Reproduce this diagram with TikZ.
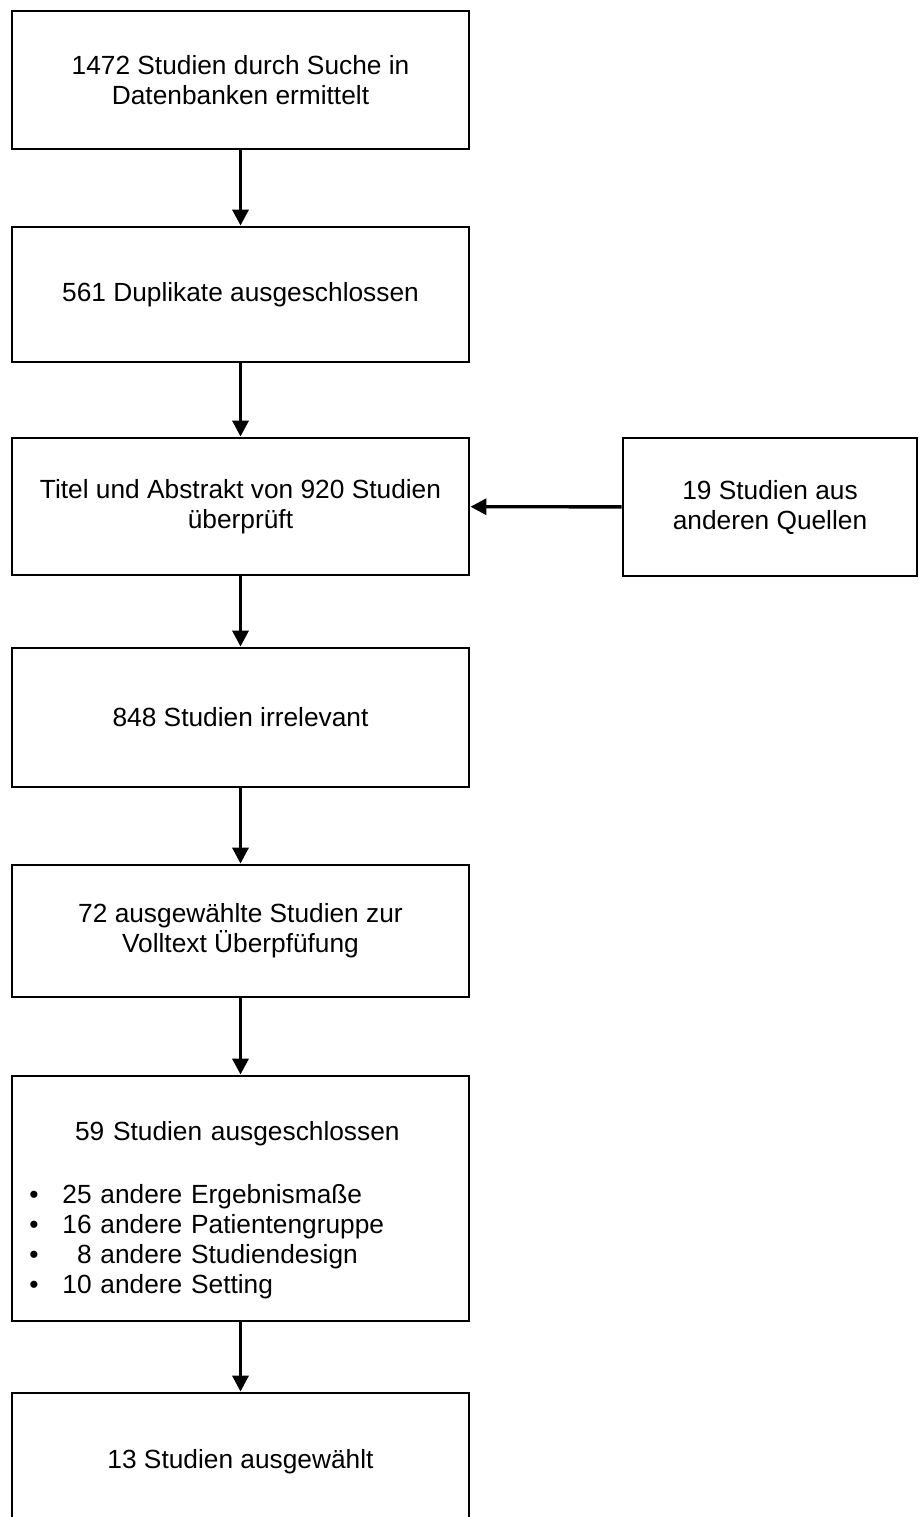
\documentclass[tikz,border=0pt]{standalone}
\usepackage{fontspec}
\setmainfont{Liberation Sans}
\usetikzlibrary{arrows.meta}
\begin{document}
\begin{tikzpicture}[x=0.025cm,y=-0.025cm]
        \tikzset{
        box/.style={rectangle, draw=black, line width=2pt, minimum width=11.425cm, align=center,
        font=\fontsize{18.7}{21.3}\selectfont},
        txt/.style={inner sep=0pt, align=left, text width=10.4cm, font=\fontsize{18.7}{21.3}\selectfont},
        c1/.style={-{Triangle[length=0.4cm,width=0.4cm]}, line width=2.4pt}
        }
        \useasboundingbox (0,0) rectangle (919,1517);
        \clip (0,0) rectangle (919,1517);
        \node[box, minimum height=3.45cm] (n1) at (240.5,80) {1472 Studien durch Suche in\\ Datenbanken ermittelt};
        \node[box, minimum height=3.375cm] (n2) at (240.5,294.5) {561 Duplikate ausgeschlossen};
        \node[box, minimum height=3.425cm] (n3) at (240.5,506.5) {Titel und Abstrakt von 920 Studien\\ überprüft};
        \node[box, minimum width=7.35cm, minimum height=3.45cm] (nq) at (770,507) {19 Studien aus\\ anderen Quellen};
        \node[box, minimum height=3.475cm] (n4) at (240.5,717.5) {848 Studien irrelevant};
        \node[box, minimum height=3.3cm] (n5) at (240.5,931) {72 ausgewählte Studien zur\\ Volltext Überpfüfung};
        \node[box, minimum height=6.125cm] (n6) at (240.5,1198.5) {};
        \node[txt, anchor=west] (n6t) at (29,1210) {\makebox[\linewidth]{59 Studien ausgeschlossen}\\[24pt]
        \makebox[0.83cm][l]{\textbullet}25 andere Ergebnismaße\\
        \makebox[0.83cm][l]{\textbullet}16 andere Patientengruppe\\
        \makebox[0.83cm][l]{\textbullet}\phantom{1}8 andere Studiendesign\\
        \makebox[0.83cm][l]{\textbullet}10 andere Setting};
        \node[box, minimum height=3.425cm] (n7) at (240.5,1461.5) {13 Studien ausgewählt};

        \draw[c1] (n1) edge (n2);
        \draw[c1] (n2) edge (n3);
        \draw[c1] (nq) edge (n3);
        \draw[c1] (n3) edge (n4);
        \draw[c1] (n4) edge (n5);
        \draw[c1] (n5) edge (n6);
        \draw[c1] (n6) edge (n7);
\end{tikzpicture}
\end{document}
